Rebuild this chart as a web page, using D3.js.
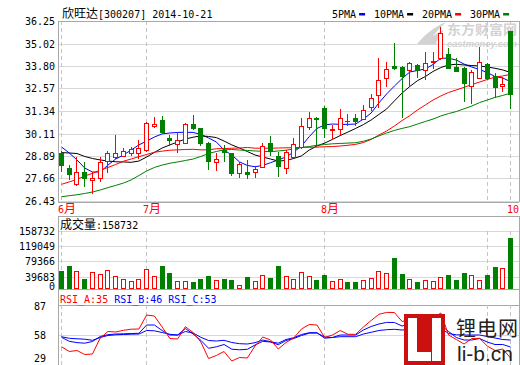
<!DOCTYPE html>
<html>
<head>
<meta charset="utf-8">
<script src="https://cdn.jsdelivr.net/npm/d3@7/dist/d3.min.js"></script>
<style>
body { margin: 0; background: #fff; }
svg text { font-family: "DejaVu Sans Mono", monospace; font-size: 10px; }
.cjk { font-family: "Noto Sans CJK SC", sans-serif; font-size: 12px; }
</style>
</head>
<body>
<script>
var w = 520;
var h = 365;

// daily candles, 2014-06-16 .. 2014-10-21 (59 trading days shown)
var open  = [29.05,28.23,27.36,28.01,27.58,27.67,28.63,28.81,28.90,29.06,29.03,29.21,30.52,30.85,29.85,29.54,29.58,30.63,30.40,29.61,28.57,29.21,29.03,27.97,28.01,28.03,28.27,29.58,28.89,28.25,28.85,29.39,30.48,30.96,31.49,30.30,30.34,30.82,30.97,30.89,31.57,32.21,33.12,33.79,33.76,33.58,33.85,33.58,34.03,34.21,34.43,33.76,33.70,32.70,33.16,33.89,33.25,32.72,35.70];
var high  = [29.15,28.39,28.83,28.58,28.01,28.83,29.16,30.03,29.32,29.39,29.76,30.76,31.01,31.08,30.03,30.21,30.68,31.12,30.41,29.65,29.03,29.48,29.05,28.57,28.67,28.30,29.58,29.98,29.12,29.21,29.85,30.94,31.30,31.00,31.61,30.58,31.43,31.18,31.18,31.67,32.25,34.21,34.03,35.03,33.79,34.03,33.90,34.54,34.57,35.94,34.76,34.25,33.74,33.58,34.85,33.96,33.40,33.21,35.70];
var low   = [28.07,27.63,27.30,27.25,26.84,27.52,28.01,28.80,28.88,28.94,28.76,29.18,30.49,30.12,29.48,29.12,29.57,30.36,29.48,28.16,28.12,28.61,27.85,27.76,27.67,27.76,28.26,28.94,27.79,27.97,28.83,29.30,30.34,29.48,29.90,29.85,30.08,30.58,30.58,30.88,31.39,31.57,32.72,33.63,31.03,32.76,33.21,33.08,33.67,34.20,33.67,33.54,31.88,31.76,33.14,33.10,32.12,32.43,31.49];
var close = [28.39,27.88,28.01,27.66,27.68,28.57,29.06,29.03,29.16,29.25,29.30,30.67,30.61,30.21,29.76,29.76,30.63,30.40,29.58,28.63,28.70,29.10,27.97,28.45,27.92,28.16,29.45,29.17,28.34,29.12,29.52,30.54,30.94,30.90,30.40,30.36,30.94,30.77,30.81,31.39,32.03,33.03,33.63,33.67,33.26,33.94,33.58,33.97,34.08,35.58,33.70,33.54,32.85,33.45,34.00,33.12,32.66,32.80,32.25];
var volume = [55700,72000,55700,31000,51600,45400,57800,40200,31000,24800,31000,61900,40200,71200,50500,25800,24800,21700,31000,41300,26800,31000,27800,12400,38200,24800,43300,35000,72000,40200,31000,52600,41300,27800,43300,24800,31000,20600,20600,26800,33000,55700,49500,96900,46400,31000,20600,26800,24800,38200,43300,27800,49500,43300,27800,43300,69100,66000,158732];

var ma5  = [29.38,29.05,28.67,28.23,28.01,28.01,28.39,28.72,28.94,29.21,29.49,29.70,29.92,30.09,30.14,30.17,30.18,30.17,30.06,29.87,29.65,29.21,28.94,28.56,28.37,28.30,28.37,28.52,28.67,28.83,29.10,29.43,29.94,30.39,30.58,30.63,30.61,30.61,30.63,30.90,31.23,31.78,32.27,32.70,33.11,33.47,33.55,33.63,33.88,34.22,34.22,34.12,33.90,33.74,33.60,33.44,33.22,33.14,32.94];
var ma10 = [29.07,29.05,29.02,28.86,28.75,28.67,28.61,28.57,28.56,28.54,28.61,28.83,29.08,29.32,29.49,29.65,29.81,29.91,29.98,29.95,29.89,29.70,29.49,29.32,29.13,28.94,28.83,28.72,28.61,28.64,28.75,28.89,29.21,29.43,29.59,29.79,30.00,30.19,30.39,30.60,30.85,31.15,31.45,31.89,32.32,32.68,33.00,33.22,33.50,33.71,33.85,33.89,33.85,33.82,33.80,33.74,33.67,33.58,33.44];
var ma20 = [27.34,27.47,27.61,27.79,27.94,28.11,28.26,28.42,28.60,28.72,28.85,28.97,29.09,29.15,29.20,29.22,29.24,29.25,29.22,29.22,29.28,29.29,29.31,29.32,29.35,29.31,29.31,29.31,29.32,29.33,29.34,29.36,29.36,29.37,29.39,29.40,29.43,29.47,29.52,29.62,29.79,30.03,30.25,30.52,30.82,31.09,31.40,31.67,31.94,32.16,32.35,32.49,32.63,32.78,32.92,33.06,33.19,33.25,33.34];
var ma30 = [26.66,26.72,26.77,26.84,26.92,27.03,27.16,27.28,27.41,27.58,27.82,28.07,28.26,28.39,28.49,28.56,28.64,28.72,28.86,29.02,29.13,29.22,29.24,29.21,29.19,29.16,29.14,29.12,29.16,29.20,29.27,29.35,29.40,29.47,29.51,29.55,29.57,29.59,29.61,29.69,29.81,29.98,30.14,30.28,30.39,30.49,30.63,30.77,30.90,31.07,31.20,31.31,31.46,31.61,31.80,31.94,32.08,32.19,32.31];

var rsiA = [46.3,41.5,42.5,38.5,39,55,61.5,61,62.7,63.8,64,78,77,66,54.5,54,66.3,60.5,51,34.5,37.5,41.5,32,35.5,35,47,56,53,44,50.5,55,64,68.5,68,55.5,58,62.5,58.7,58.7,66,72.5,78.7,80.6,80.5,71.5,73.5,72,73,75,80,58,53.5,49,54.5,54.7,47,42.5,44,35];
var rsiB = [55.7,51.7,50.4,49.8,51.5,56.5,58.3,59,59.2,59.5,59.7,68,68,62.5,58,58,64.5,59,52.7,44.7,46.2,48.5,43.8,43.2,43.7,48,51.7,51,48.3,52.5,54.5,57.5,59.8,60,56,55.5,58,58,58,63,66.5,69,70.6,70.5,67,69,68,67,66.5,68,61.5,55.5,53,53,54.5,51,48.5,48.5,46];
var rsiC = [56.3,54.7,54.2,53.8,52.7,55.5,57.5,58.2,58.5,58.8,59,62.5,62.2,60.5,58.7,58,61.5,60,55.7,52.5,52,52.7,50.5,49.3,49,50.3,53,51.3,49.8,53.5,55.3,58.5,60.3,60.3,54.8,55.5,56.3,56.3,56.3,59,60.7,62.5,63.3,63.7,63,63.5,63,62.5,63,64.7,59.5,58.2,58,58,58,56.5,55,53.5,53];

var priceTicks = [26.43,27.66,28.89,30.11,31.34,32.57,33.80,35.02,36.25];
var volTicks = [0,39683,79366,119049,158732];
var rsiTicks = [29,58,87];
var monthIdx = [0,11,34,55,58];
var monthNum = ["6","7","8","","10"];
var monthSuffix = ["月","月","月","",""];   // the last one is cut by the window edge

var maNames = ["5PMA","10PMA","20PMA","30PMA"];
var maColors = ["#0000ff","#000000","#ff0000","#008000"];
var maData = [ma5, ma10, ma20, ma30];

var upColor = "#ff0000", downColor = "#008000";
var gridColor = "#d8d8d8", frameColor = "#a8a8a8";
var left = 58, right = 519;

var idx = d3.range(close.length);

var x = d3.scaleLinear().domain([0, 58]).range([61, 510]);
var y = d3.scaleLinear().domain([26.43, 36.25]).range([201, 21]);
var yVol = d3.scaleLinear().domain([0, 158732]).range([289, 237.7]);
var yVolTick = d3.scaleLinear().domain([0, 158732]).range([291.7, 231]);
var yRsi = d3.scaleLinear().domain([29, 87]).range([364, 306]);

function px(v) { return Math.round(v) + 0.5; }

var svg = d3.select("body")
    .append("svg")
    .attr("width", w)
    .attr("height", h);

svg.append("rect").attr("width", w).attr("height", h).attr("fill", "#fff");

// ---------- frames & grids ----------
function hline(yy, x1, x2, col) {
    svg.append("line")
        .attr("x1", x1).attr("x2", x2)
        .attr("y1", px(yy)).attr("y2", px(yy))
        .attr("stroke", col);
}

// main price grid
priceTicks.forEach(function(t) { hline(y(t), left, right, gridColor); });

// volume grid
hline(216, left, right, frameColor);
volTicks.forEach(function(t) { if (t > 0) hline(yVolTick(t), left, right, gridColor); });

// rsi grid
hline(289, left, right, frameColor);
hline(305, left, right, frameColor);
hline(yRsi(58), left, right, gridColor);

// month dashed lines
monthIdx.forEach(function(i) {
    [[21, 202], [231, 289], [305, 365]].forEach(function(seg) {
        svg.append("line")
            .attr("x1", px(x(i))).attr("x2", px(x(i)))
            .attr("y1", seg[0]).attr("y2", seg[1])
            .attr("stroke", "#c4c4c4")
            .attr("stroke-dasharray", "4,3");
    });
});

// vertical frame lines
[[21, 202], [216, 365]].forEach(function(seg) {
    svg.append("line").attr("x1", left + 0.5).attr("x2", left + 0.5)
        .attr("y1", seg[0]).attr("y2", seg[1]).attr("stroke", frameColor);
    svg.append("line").attr("x1", right + 0.5).attr("x2", right + 0.5)
        .attr("y1", seg[0]).attr("y2", seg[1]).attr("stroke", frameColor);
});
hline(21, left, right, frameColor);
hline(202, left, right, frameColor);

// ---------- eastmoney watermark ----------
var wm = svg.append("g").attr("fill", "#d2d2d2");
wm.append("path")
    .attr("d", "M417,44 C424,36 432,28 446,22 C438,30 432,36 428,44 Z M424,44 C430,38 436,33 444,30 C440,35 437,40 436,44 Z");
wm.append("text").attr("x", 447).attr("y", 34)
    .attr("class", "cjk").style("font-size", "13px").style("font-weight", "bold")
    .attr("textLength", 70).attr("lengthAdjust", "spacingAndGlyphs")
    .text("东方财富网");
wm.append("text").attr("x", 447).attr("y", 47)
    .style("font-family", "Liberation Sans").style("font-size", "8.5px")
    .style("font-style", "italic").style("font-weight", "bold")
    .attr("textLength", 70).attr("lengthAdjust", "spacingAndGlyphs")
    .text("eastmoney.com");

// ---------- moving averages ----------
maData.forEach(function(arr, k) {
    var line = d3.line()
        .x(function(d, i) { return x(i) + 0.5; })
        .y(function(d) { return y(d); });
    svg.append("path")
        .datum(arr)
        .attr("d", line)
        .attr("fill", "none")
        .attr("stroke", maColors[k])
        .attr("stroke-width", 1);
});

// ---------- candles ----------
var candle = svg.selectAll(".candle")
    .data(idx)
    .enter()
    .append("g")
    .attr("class", "candle");

candle.each(function(i) {
    var g = d3.select(this);
    var up = close[i] >= open[i];
    var col = up ? upColor : downColor;
    var cx = px(x(i));
    var yt = Math.round(y(Math.max(open[i], close[i])));
    var yb = Math.round(y(Math.min(open[i], close[i])));
    g.append("line")
        .attr("x1", cx).attr("x2", cx)
        .attr("y1", Math.round(y(high[i]))).attr("y2", Math.round(y(low[i])) + 1)
        .attr("stroke", col);
    if (up) {
        if (yb - yt < 1) {
            g.append("line").attr("x1", cx - 2.5).attr("x2", cx + 2.5)
                .attr("y1", yt + 0.5).attr("y2", yt + 0.5).attr("stroke", col);
        } else {
            g.append("rect")
                .attr("x", cx - 2).attr("y", yt + 0.5)
                .attr("width", 4).attr("height", yb - yt)
                .attr("fill", "#fff").attr("stroke", col);
        }
    } else {
        g.append("rect")
            .attr("x", cx - 2.5).attr("y", yt)
            .attr("width", 5).attr("height", Math.max(1, yb - yt + 1))
            .attr("fill", col);
    }
});

// ---------- volume bars ----------
svg.selectAll(".vol")
    .data(idx)
    .enter()
    .append("rect")
    .attr("class", "vol")
    .attr("x", function(i) { return close[i] >= open[i] ? px(x(i)) - 2 : px(x(i)) - 2.5; })
    .attr("y", function(i) { var t = Math.round(yVol(volume[i])); return close[i] >= open[i] ? t + 0.5 : t; })
    .attr("width", function(i) { return close[i] >= open[i] ? 4 : 5; })
    .attr("height", function(i) { var t = Math.round(yVol(volume[i])); return close[i] >= open[i] ? 289 - t - 1 : 289 - t; })
    .attr("fill", function(i) { return close[i] >= open[i] ? "#fff" : downColor; })
    .attr("stroke", function(i) { return close[i] >= open[i] ? upColor : "none"; });

// ---------- RSI lines ----------
var rsiLine = d3.line()
    .x(function(d, i) { return x(i) + 0.5; })
    .y(function(d) { return yRsi(d); });
[[rsiC, "#0000ff"], [rsiB, "#0000ff"], [rsiA, "#ff0000"]].forEach(function(s) {
    svg.append("path").datum(s[0]).attr("d", rsiLine)
        .attr("fill", "none").attr("stroke", s[1]);
});

// ---------- axis labels ----------
svg.selectAll(".plab")
    .data(priceTicks)
    .enter()
    .append("text")
    .attr("x", 55)
    .attr("y", function(d) { return y(d) + 4; })
    .attr("text-anchor", "end")
    .text(function(d) { return d.toFixed(2); });

svg.selectAll(".vlab")
    .data(volTicks)
    .enter()
    .append("text")
    .attr("x", 55)
    .attr("y", function(d) { return Math.min(yVolTick(d), 286) + 4; })
    .attr("text-anchor", "end")
    .text(function(d) { return d; });

svg.selectAll(".rlab")
    .data(rsiTicks)
    .enter()
    .append("text")
    .attr("x", 46)
    .attr("y", function(d) { return Math.min(yRsi(d) + 4, 362); })
    .attr("text-anchor", "end")
    .text(function(d) { return d; });

// month labels
monthIdx.forEach(function(i, k) {
    if (!monthNum[k]) return;
    var t = svg.append("text")
        .attr("x", Math.round(x(i)) - 3)
        .attr("y", 213)
        .attr("fill", "#ff0000");
    t.append("tspan").text(monthNum[k]);
    if (monthSuffix[k]) t.append("tspan").attr("class", "cjk").text(monthSuffix[k]);
});

// title
var title = svg.append("text").attr("x", 62).attr("y", 18);
title.append("tspan").attr("class", "cjk").text("欣旺达");
title.append("tspan").text("[300207] 2014-10-21");

// legend
var legX = [332, 374, 422, 470];
maNames.forEach(function(n, k) {
    svg.append("text").attr("x", legX[k]).attr("y", 18).text(n);
    var tw = n.length * 6.02;
    svg.append("rect")
        .attr("x", legX[k] + tw + 3).attr("y", 13)
        .attr("width", 6).attr("height", 2.5)
        .attr("fill", maColors[k]);
});

// volume header
var vh = svg.append("text").attr("x", 60).attr("y", 229);
vh.append("tspan").attr("class", "cjk").text("成交量");
vh.append("tspan").text(":" + volume[volume.length - 1]);

// rsi header
var rh = svg.append("text").attr("x", 60).attr("y", 303);
rh.append("tspan").attr("fill", "#ff0000").text("RSI_A:" + Math.round(rsiA[58]));
rh.append("tspan").attr("fill", "#0000ff").attr("dx", 6).text("RSI_B:" + Math.round(rsiB[58]));
rh.append("tspan").attr("fill", "#0000ff").attr("dx", 6).text("RSI_C:" + Math.round(rsiC[58]));

// ---------- li-b.cn logo ----------
var logo = svg.append("g");
logo.append("rect").attr("x", 404).attr("y", 314).attr("width", 41).attr("height", 51).attr("fill", "#cc1010");
logo.append("path").attr("fill", "#fff")
    .attr("d", "M408,318 h9 v34 h14 v9 h-23 Z");
logo.append("rect").attr("x", 432).attr("y", 318).attr("width", 9).attr("height", 43).attr("fill", "#fff");
logo.append("text").attr("x", 456).attr("y", 336)
    .attr("class", "cjk").style("font-size", "20px").attr("fill", "#222")
    .attr("letter-spacing", 1)
    .text("锂电网");
logo.append("text").attr("x", 457).attr("y", 361)
    .style("font-family", "Liberation Sans").style("font-size", "21px").attr("fill", "#222")
    .text("li-b.cn");
</script>
</body>
</html>
